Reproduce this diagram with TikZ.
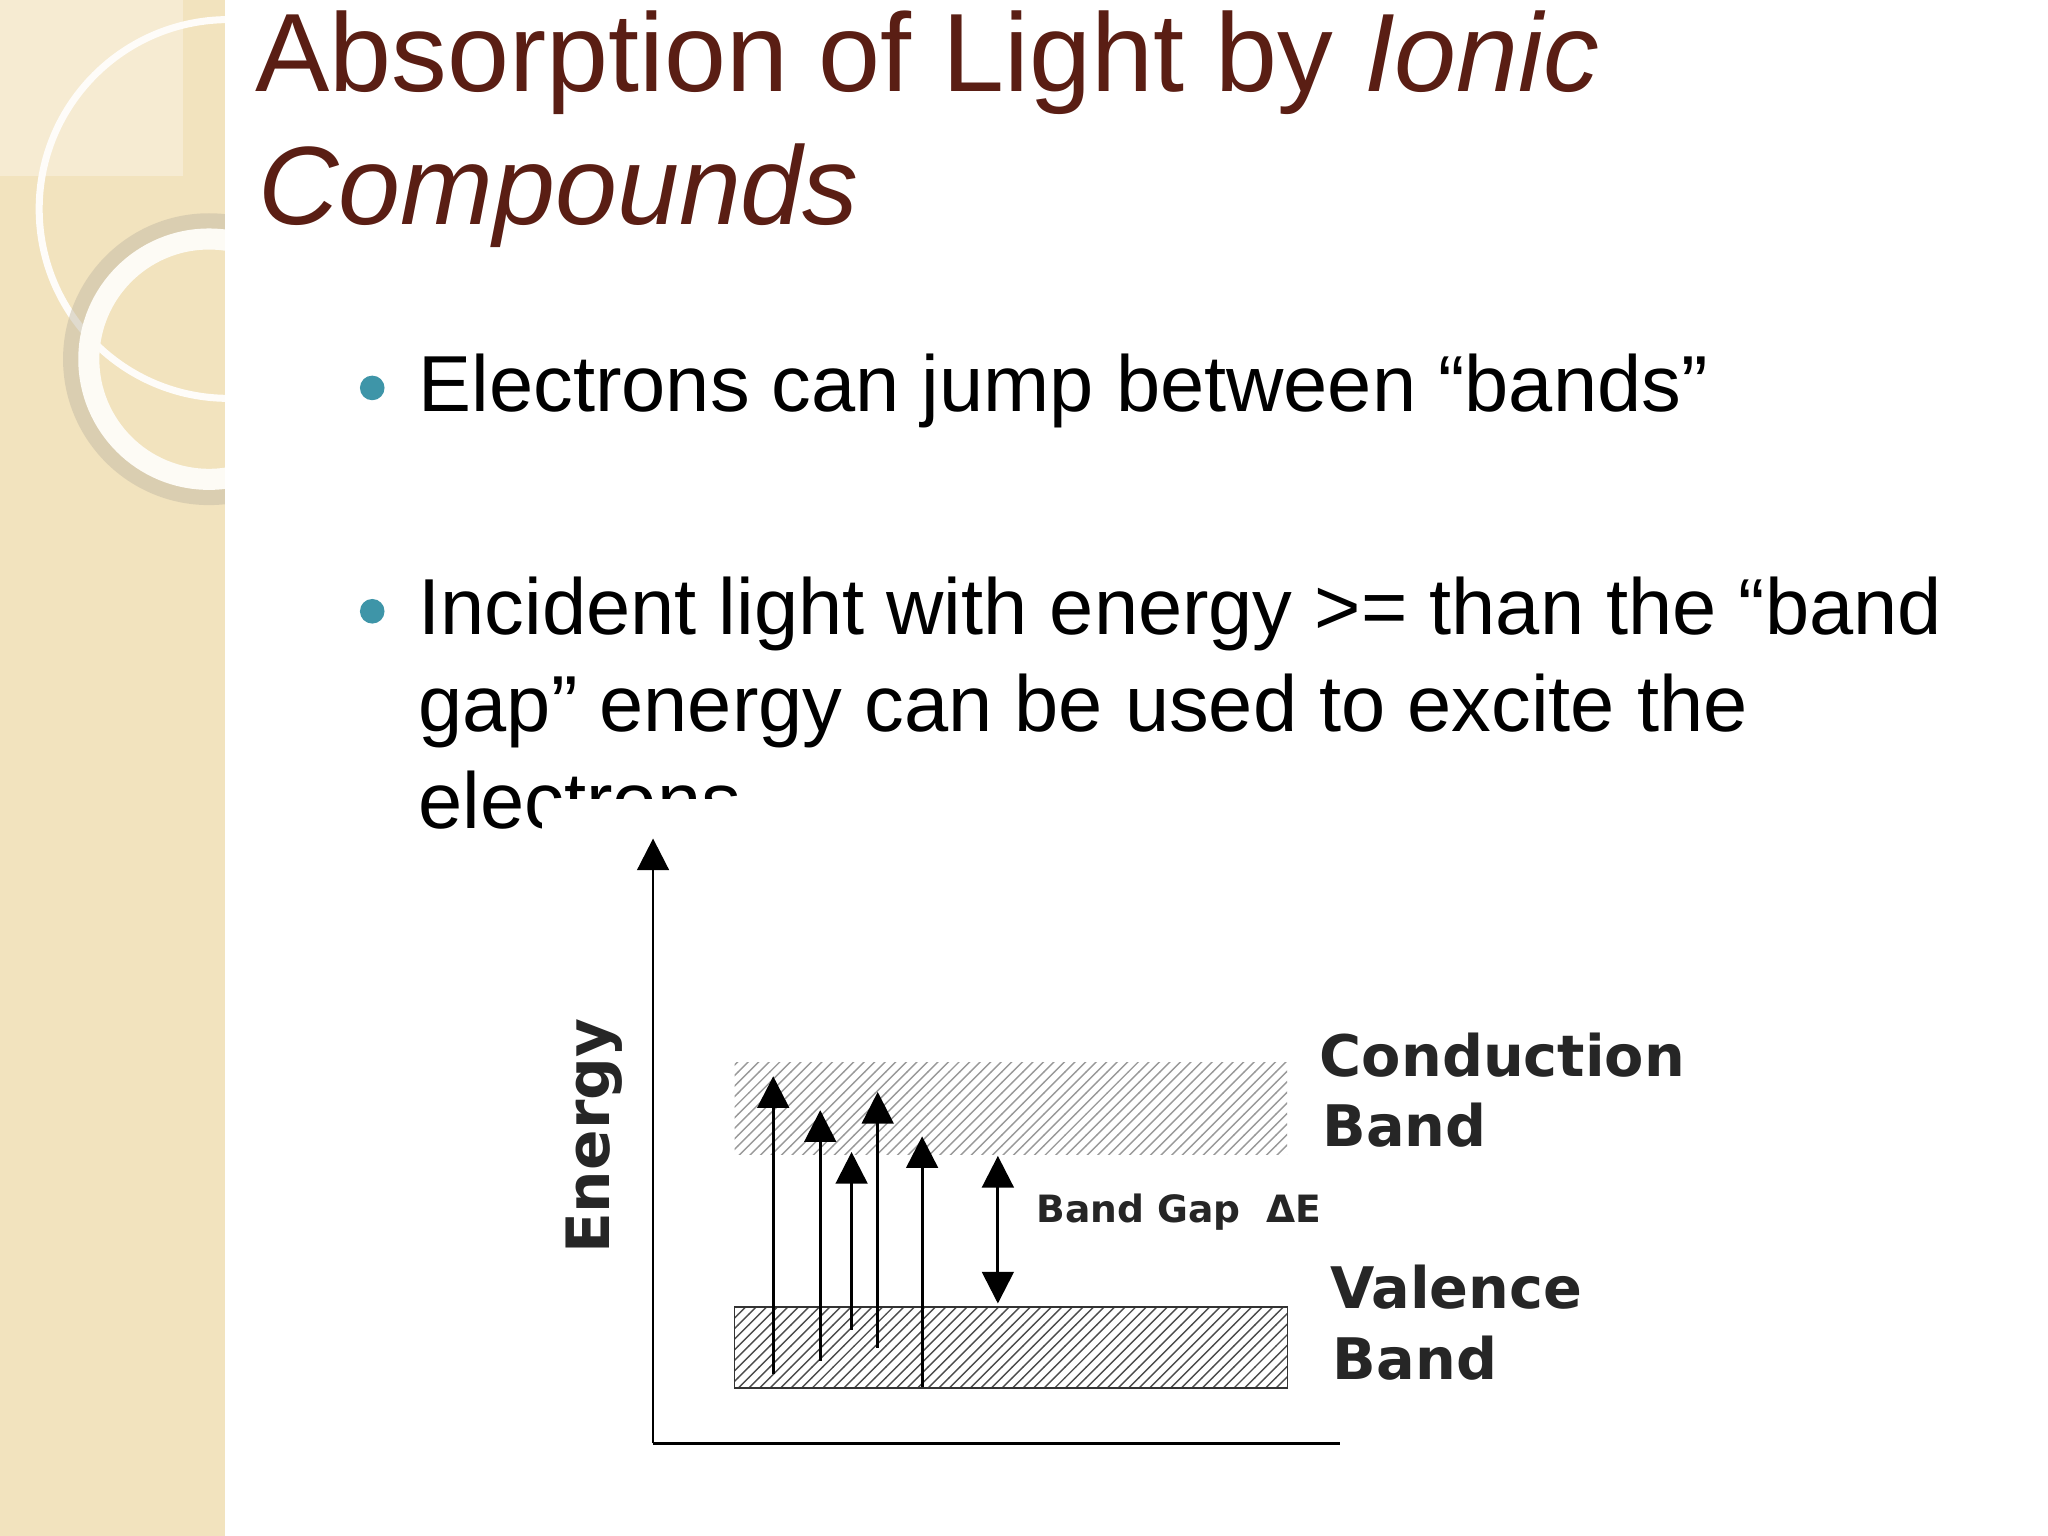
\documentclass[tikz,border=0pt]{standalone}
\usepackage{fontspec}
\setmainfont{Liberation Sans}
\newfontfamily\dvs{DejaVu Sans}
\usetikzlibrary{patterns,arrows.meta}
\definecolor{beige}{HTML}{F2E3BE}
\definecolor{titlec}{HTML}{5A1E14}
\definecolor{bulc}{HTML}{3E95A8}
\tikzset{
 ttl/.style={anchor=base west,text=titlec,font=\fontsize{31.7}{36}\selectfont,inner sep=0},
 body/.style={anchor=base west,font=\fontsize{22.6}{26}\selectfont,inner sep=0},
 dlab/.style={anchor=base west,font=\dvs\bfseries\fontsize{16.3}{18}\selectfont,inner sep=0,text=black!85},
 arr/.style={thick,-{Triangle[length=9pt,width=9pt]}},
 bul/.style={circle,fill=bulc,inner sep=0,minimum size=7pt}
}
\begin{document}
\begin{tikzpicture}[x=0.01306cm,y=-0.01306cm]
\useasboundingbox (0,0) rectangle (1568,1176);
\fill[white] (0,0) rectangle (1568,1176);
\fill[beige] (0,0) rectangle (172,1176);
\fill[beige!70!white] (0,0) rectangle (140,135);
\draw[white!90!beige,line width=2pt] (175,160) circle (145);
\draw[beige!60!gray,line width=5pt,opacity=.5] (160,275) circle (105);
\draw[white!85!beige,line width=6pt] (160,275) circle (92);
\fill[white] (172,0) rectangle (1568,1176);
\node[ttl] (t1) at (195,70) {Absorption of Light by \textit{Ionic}};
\node[ttl] (t2) at (197,172) {\textit{Compounds}};
\node[bul] (b1) at (285,297) {};
\node[body] (l1) at (320,315) {Electrons can jump between “bands”};
\node[bul] (b2) at (285,468) {};
\node[body] (l2) at (320,486) {Incident light with energy >= than the “band};
\node[body] (l3) at (320,560) {gap” energy can be used to excite the};
\node[body] (l4) at (320,634) {electrons};
\fill[white] (415,612) rectangle (1312,1112);
% axes
\coordinate (o) at (500,1105);
\coordinate (top) at (500,642);
\coordinate (right) at (1026,1105);
\draw[arr] (o) -- (top);
\draw[thick] (o) -- (right);
\node[dlab,rotate=90,anchor=center,font=\dvs\bfseries\fontsize{17}{20}\selectfont] (en) at (455,870) {Energy};
% bands
\node[draw=none,pattern=north east lines,pattern color=gray!80,minimum width=423*0.01306cm,minimum height=70*0.01306cm,anchor=north west,inner sep=0] (cb) at (562,813) {};
\node[draw=black!80,pattern=north east lines,pattern color=black!70,minimum width=423*0.01306cm,minimum height=62*0.01306cm,anchor=north west,inner sep=0] (vb) at (562,1000) {};
% arrows
\draw[arr] (592,1052) -- (592,824);
\draw[arr] (628,1042) -- (628,850);
\draw[arr] (652,1018) -- (652,882);
\draw[arr] (672,1032) -- (672,836);
\draw[arr] (706,1062) -- (706,870);
\draw[thick,{Triangle[length=9pt,width=9pt]}-{Triangle[length=9pt,width=9pt]}] (764,885) -- (764,998);
\node[dlab,font=\dvs\bfseries\fontsize{10.7}{14}\selectfont] (bg) at (793,936) {Band Gap\ \ ΔE};
\node[dlab] (c1) at (1010,824) {Conduction};
\node[dlab] (c2) at (1012,878) {Band};
\node[dlab] (v1) at (1018,1002) {Valence};
\node[dlab] (v2) at (1020,1056) {Band};
\end{tikzpicture}
\end{document}
